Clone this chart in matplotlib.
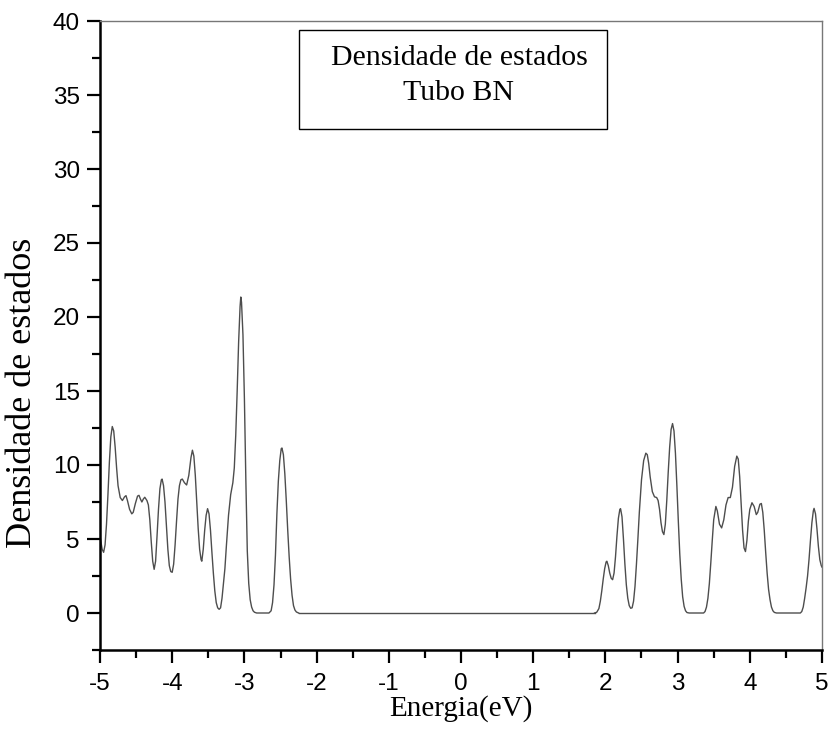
import matplotlib
matplotlib.use("Agg")
import matplotlib.pyplot as plt
from matplotlib.patches import Rectangle
from matplotlib.ticker import MultipleLocator

# ---- data: energy (eV) and density of states ----
energy_valence = [
    -5.00, -4.97, -4.95, -4.93, -4.91, -4.89, -4.87, -4.85, -4.83, -4.81,
    -4.79, -4.77, -4.75, -4.72, -4.69, -4.66, -4.64, -4.62, -4.59, -4.56,
    -4.54, -4.51, -4.48, -4.46, -4.44, -4.42, -4.40, -4.38, -4.35, -4.33,
    -4.31, -4.29, -4.27, -4.25, -4.23, -4.21, -4.19, -4.17, -4.15, -4.14,
    -4.12, -4.10, -4.08, -4.06, -4.04, -4.02, -4.00, -3.98, -3.96, -3.94,
    -3.92, -3.90, -3.88, -3.86, -3.83, -3.80, -3.77, -3.74, -3.72, -3.70,
    -3.68, -3.66, -3.64, -3.62, -3.60, -3.59, -3.57, -3.55, -3.53, -3.51,
    -3.49, -3.47, -3.45, -3.43, -3.41, -3.39, -3.37, -3.35, -3.33, -3.31,
    -3.29, -3.27, -3.25, -3.22, -3.19, -3.16, -3.14, -3.12, -3.10, -3.08,
    -3.06, -3.05, -3.04, -3.02, -3.00, -2.98, -2.96, -2.94, -2.92, -2.90,
    -2.88, -2.86, -2.83, -2.66, -2.63, -2.61, -2.59, -2.57, -2.55, -2.53,
    -2.51, -2.49, -2.48, -2.46, -2.44, -2.42, -2.40, -2.38, -2.36, -2.34,
    -2.32, -2.30, -2.28, -2.25,
]
dos_valence = [
    5.2, 4.3, 4.1, 4.6, 6.0, 8.0, 10.2, 11.9, 12.6, 12.3,
    11.2, 9.8, 8.6, 7.8, 7.6, 7.85, 7.93, 7.6, 7.0, 6.7,
    6.8, 7.4, 7.9, 7.95, 7.7, 7.5, 7.7, 7.82, 7.6, 7.3,
    6.3, 4.8, 3.5, 2.95, 3.5, 5.2, 7.0, 8.4, 9.0, 9.05,
    8.6, 7.5, 5.9, 4.3, 3.2, 2.8, 2.75, 3.3, 4.6, 6.2,
    7.7, 8.6, 9.0, 9.05, 8.8, 8.65, 9.3, 10.5, 11.0, 10.6,
    9.3, 7.5, 5.7, 4.3, 3.6, 3.5, 4.3, 5.6, 6.6, 7.05,
    6.7, 5.6, 4.1, 2.7, 1.5, 0.7, 0.35, 0.25, 0.35, 1.0,
    2.0, 3.0, 4.5, 6.6, 8.0, 8.8, 9.8, 12.0, 15.0, 18.3,
    20.7, 21.35, 21.0, 18.8, 14.5, 9.0, 4.2, 2.0, 0.9, 0.4,
    0.15, 0.05, 0.0, 0.0, 0.15, 0.7, 1.9, 3.9, 6.7, 8.9,
    10.3, 11.1, 11.15, 10.7, 9.4, 7.6, 5.6, 3.8, 2.3, 1.2,
    0.5, 0.2, 0.07, 0.0,
]
energy_gap = [-2.25, 1.85]
dos_gap = [0.0, 0.0]
energy_conduction = [
    1.85, 1.88, 1.91, 1.93, 1.95, 1.97, 1.99, 2.01, 2.02, 2.04,
    2.06, 2.08, 2.10, 2.12, 2.14, 2.16, 2.18, 2.20, 2.21, 2.23,
    2.25, 2.27, 2.29, 2.31, 2.33, 2.35, 2.37, 2.39, 2.41, 2.43,
    2.45, 2.47, 2.50, 2.53, 2.56, 2.58, 2.60, 2.62, 2.65, 2.68,
    2.71, 2.73, 2.75, 2.77, 2.79, 2.81, 2.83, 2.85, 2.87, 2.89,
    2.91, 2.93, 2.95, 2.97, 2.99, 3.01, 3.03, 3.05, 3.07, 3.09,
    3.11, 3.13, 3.16, 3.36, 3.38, 3.40, 3.42, 3.44, 3.46, 3.48,
    3.50, 3.53, 3.55, 3.58, 3.61, 3.64, 3.67, 3.70, 3.73, 3.76,
    3.79, 3.82, 3.84, 3.86, 3.88, 3.90, 3.92, 3.94, 3.96, 3.98,
    4.00, 4.03, 4.06, 4.09, 4.11, 4.14, 4.16, 4.18, 4.20, 4.22,
    4.24, 4.26, 4.28, 4.30, 4.32, 4.34, 4.37, 4.70, 4.72, 4.74,
    4.76, 4.78, 4.80, 4.82, 4.84, 4.86, 4.88, 4.89, 4.91, 4.93,
    4.95, 4.97, 4.99, 5.00,
]
dos_conduction = [
    0.0, 0.05, 0.3, 0.8, 1.5, 2.3, 3.0, 3.45, 3.5, 3.2,
    2.7, 2.35, 2.25, 2.7, 3.8, 5.2, 6.4, 7.0, 7.05, 6.5,
    5.0, 3.3, 1.9, 1.0, 0.5, 0.32, 0.35, 0.8, 1.8, 3.3,
    5.0, 6.8, 9.0, 10.3, 10.8, 10.7, 10.1, 9.2, 8.2, 7.85,
    7.8, 7.6, 7.0, 6.1, 5.5, 5.3, 6.0, 7.6, 9.5, 11.2,
    12.4, 12.8, 12.3, 10.8, 8.6, 6.2, 4.0, 2.3, 1.1, 0.45,
    0.15, 0.03, 0.0, 0.0, 0.1, 0.4, 1.0, 2.0, 3.4, 4.9,
    6.3, 7.2, 6.9, 6.0, 5.75, 6.3, 7.3, 7.8, 7.8, 8.5,
    9.9, 10.6, 10.4, 9.2, 7.4, 5.6, 4.4, 4.15, 4.9, 6.2,
    7.0, 7.45, 7.2, 6.65, 6.8, 7.35, 7.4, 6.8, 5.6, 4.1,
    2.7, 1.6, 0.9, 0.4, 0.15, 0.04, 0.0, 0.0, 0.1, 0.4,
    1.0, 1.7, 2.5, 3.6, 4.9, 6.1, 6.9, 7.07, 6.7, 5.7,
    4.5, 3.6, 3.2, 3.1,
]
x_ticks = [-5, -4, -3, -2, -1, 0, 1, 2, 3, 4, 5]
y_ticks = [0, 5, 10, 15, 20, 25, 30, 35, 40]

W, H = 829, 742
fig = plt.figure(figsize=(W / 100, H / 100), dpi=100)
fig.patch.set_facecolor("white")

L, R, T, B = 100, 822, 21, 650
ax = fig.add_axes([L / W, 1 - B / H, (R - L) / W, (B - T) / H])

ax.plot(energy_valence, dos_valence, color="#4d4d4d", lw=1.0)
ax.plot(energy_gap, dos_gap, color="#4d4d4d", lw=1.0)
ax.plot(energy_conduction, dos_conduction, color="#4d4d4d", lw=1.0)

ax.set_xlim(-5, 5)
ax.set_ylim(-2.5, 40)
ax.set_xticks(x_ticks)
ax.set_yticks(y_ticks)
ax.set_xticklabels([str(v) for v in x_ticks])
ax.set_yticklabels([str(v) for v in y_ticks])
ax.xaxis.set_minor_locator(MultipleLocator(0.5))
ax.yaxis.set_minor_locator(MultipleLocator(2.5))

for lab in ax.get_xticklabels() + ax.get_yticklabels():
    lab.set_fontfamily(["Liberation Sans", "DejaVu Sans"])
    lab.set_fontsize(17.5)

ax.tick_params(axis="both", which="major", direction="out", length=9.5, width=1.6,
               color="black")
ax.tick_params(axis="both", which="minor", direction="out", length=5.5, width=1.6,
               color="black")
ax.tick_params(axis="x", which="major", pad=7)
ax.tick_params(axis="y", which="major", pad=5)
ax.tick_params(top=False, right=False, which="both")

for s in ["left", "bottom"]:
    ax.spines[s].set_linewidth(1.8)
    ax.spines[s].set_color("black")
for s in ["top", "right"]:
    ax.spines[s].set_linewidth(1.0)
    ax.spines[s].set_color("#777777")

serif = ["Liberation Serif", "DejaVu Serif"]
fig.text(461 / W, 1 - 709 / H, "Energia(eV)", family=serif, fontsize=21,
         ha="center", va="center")
fig.text(23 / W, 1 - 393 / H, "Densidade de estados", family=serif, fontsize=26,
         ha="center", va="center", rotation=90)

# annotation box
bx0, bx1, by0, by1 = 299, 607, 30, 129
ax.add_patch(Rectangle(((bx0 - L) / (R - L), (B - by1) / (B - T)),
                       (bx1 - bx0) / (R - L), (by1 - by0) / (B - T),
                       transform=ax.transAxes, facecolor="white",
                       edgecolor="black", lw=1.0, zorder=5))
ax.text((459 - L) / (R - L), (B - 65) / (B - T), "Densidade de estados",
        transform=ax.transAxes, family=serif, fontsize=21.5, ha="center",
        va="baseline", zorder=6)
ax.text((459 - L) / (R - L), (B - 100) / (B - T), "Tubo BN",
        transform=ax.transAxes, family=serif, fontsize=21.5, ha="center",
        va="baseline", zorder=6)

fig.savefig("out.png", dpi=100, facecolor="white")
